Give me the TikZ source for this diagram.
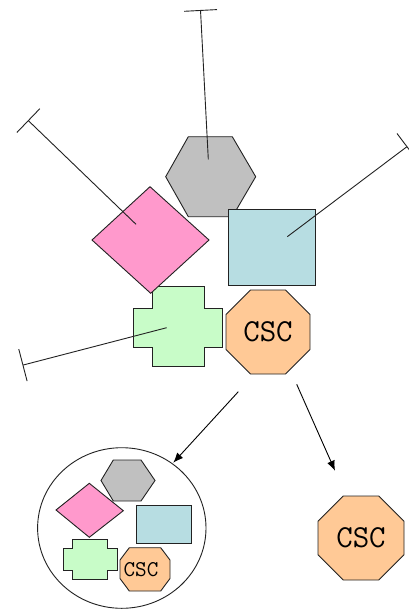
\documentclass[tikz,border=0pt]{standalone}
\usetikzlibrary{arrows.meta}
\definecolor{hexgray}{HTML}{C0C0C0}
\definecolor{dpink}{HTML}{FF99CC}
\definecolor{rblue}{HTML}{B7DDE2}
\definecolor{cgreen}{HTML}{C8FCC8}
\definecolor{ocorange}{HTML}{FFC996}
\definecolor{edgecol}{HTML}{222222}
\tikzset{
  shp/.style={draw=edgecol, line width=0.9pt, line join=miter},
  tline/.style={draw=edgecol, line width=0.9pt, -{Bar[width=33pt,line width=0.9pt]}},
  flow/.style={draw=black, line width=0.9pt, -{Latex[length=10pt,width=8pt]}},
  bigtxt/.style={font=\ttfamily\fontsize{32}{32}\selectfont, inner sep=0pt},
  smalltxt/.style={font=\ttfamily\fontsize{22.5}{22.5}\selectfont, inner sep=0pt},
}
\begin{document}
\begin{tikzpicture}[x=1pt,y=-1pt]
\useasboundingbox (0,0) rectangle (409,610);
\fill[white] (0,0) rectangle (409,610);

% ---------- upper group ----------
\draw[shp, fill=hexgray] (188.3,136.7) -- (232.3,136.7) -- (255.7,176.7) -- (232.3,216.7) -- (188.3,216.7) -- (165.7,176.7) -- cycle;
\coordinate (hexc) at (208.3,159.3);

\draw[shp, fill=rblue] (228.3,209.3) rectangle (315.3,285.3);
\coordinate (rectc) at (287.3,236.7);

\draw[shp, fill=cgreen] (152.3,286.7) -- (204,286.7) -- (204,308.3) -- (222.7,308.3) -- (222.7,347.7) -- (204,347.7) -- (204,366.7) -- (152.3,366.7) -- (152.3,347.7) -- (133.3,347.7) -- (133.3,308.3) -- (152.3,308.3) -- cycle;
\coordinate (crossc) at (166.7,327.7);

\draw[shp, fill=dpink] (150,186.7) -- (209,240) -- (150.7,293.3) -- (92,240) -- cycle;
\coordinate (diac) at (136,224.3);

\draw[shp, fill=ocorange] (250.6,290) -- (285.4,290) -- (310,314.6) -- (310,349.4) -- (285.4,374) -- (250.6,374) -- (226,349.4) -- (226,314.6) -- cycle;
\node[bigtxt] (csc1) at (268,332) {CSC};

% T-ended lines
\coordinate (tTop) at (200.5,10);
\coordinate (tLeft) at (28,120.3);
\coordinate (tRight) at (407.3,146.4);
\coordinate (tBot) at (22.5,365.2);
\draw[tline] (hexc) -- (tTop);
\draw[tline] (diac) -- (tLeft);
\draw[tline] (rectc) -- (tRight);
\draw[tline] (crossc) -- (tBot);

% ---------- arrows ----------
\coordinate (a1s) at (238.3,391.7);
\coordinate (a1e) at (173.3,462.7);
\coordinate (a2s) at (296.7,384.3);
\coordinate (a2e) at (335,470.7);
\draw[flow] (a1s) -- (a1e);
\draw[flow] (a2s) -- (a2e);

% ---------- lower-left group in circle ----------
\draw[shp, fill=white] (121.8,528) ellipse [x radius=84.2, y radius=80.3];
\draw[shp, fill=hexgray] (113.3,460) -- (141,460) -- (155,480.5) -- (141,501) -- (113.3,501) -- (101,480.5) -- cycle;
\draw[shp, fill=dpink] (56,510) -- (89.3,483.3) -- (123.3,510.7) -- (89.3,537.3) -- cycle;
\draw[shp, fill=rblue] (136.7,505.7) rectangle (191,543.3);
\draw[shp, fill=cgreen] (72.7,539.3) -- (107.7,539.3) -- (107.7,548.3) -- (117.3,548.3) -- (117.3,570) -- (107.7,570) -- (107.7,579.3) -- (72.7,579.3) -- (72.7,570) -- (63.3,570) -- (63.3,548.3) -- (72.7,548.3) -- cycle;
\draw[shp, fill=ocorange] (129.3,547.7) -- (160.7,547.7) -- (170,560) -- (170,578.5) -- (160.7,591) -- (129.3,591) -- (120,578.5) -- (120,560) -- cycle;
\node[smalltxt] (csc2) at (141,569.5) {CSC};

% ---------- lower-right octagon ----------
\draw[shp, fill=ocorange] (343.2,496) -- (378.8,496) -- (404,521.2) -- (404,554.8) -- (378.8,580) -- (343.2,580) -- (318,554.8) -- (318,521.2) -- cycle;
\node[bigtxt] (csc3) at (361,538) {CSC};
\end{tikzpicture}
\end{document}
